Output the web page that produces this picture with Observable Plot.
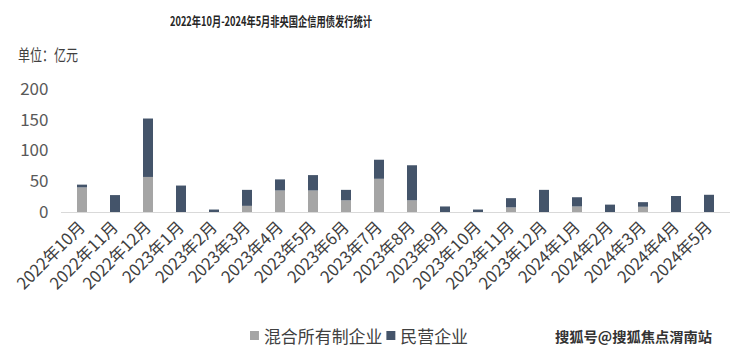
<!DOCTYPE html>
<html>
<head>
<meta charset="utf-8">
<script src="https://cdn.jsdelivr.net/npm/d3@7"></script>
<script src="https://cdn.jsdelivr.net/npm/@observablehq/plot@0.6"></script>
<style>
  html, body { margin: 0; padding: 0; background: #fff; }
  #wrap { position: relative; width: 740px; height: 357px; overflow: hidden; font-family: "Noto Sans CJK SC", "Noto Sans", sans-serif; }
  #chart { position: absolute; left: 0; top: 0; }
  .txt { position: absolute; white-space: nowrap; transform-origin: 0 0; }
  #title { left: 170px; top: 11px; font-size: 13px; font-weight: bold; color: #262626; }
  #unit { left: 18px; top: 42px; font-size: 16px; color: #404040; }
  #legend { left: 250px; top: 323px; font-size: 17px; color: #404040; display: flex; align-items: center; }
  #legend .sw { display: inline-block; width: 9px; height: 9px; margin-right: 5px; }
  #legend .item { display: flex; align-items: center; margin-right: 4px; }
  #sohu { left: 555px; top: 326px; font-size: 14px; font-weight: bold; color: #333; }
</style>
</head>
<body>
<div id="wrap">
  <div id="chart"></div>
  <div id="title" class="txt">2022年10月-2024年5月非央国企信用债发行统计</div>
  <div id="unit" class="txt">单位：亿元</div>
  <div id="legend" class="txt"></div>
  <div id="sohu" class="txt">搜狐号@搜狐焦点渭南站</div>
</div>
<script>
const months = ["2022年10月","2022年11月","2022年12月","2023年1月","2023年2月","2023年3月","2023年4月","2023年5月","2023年6月","2023年7月","2023年8月","2023年9月","2023年10月","2023年11月","2023年12月","2024年1月","2024年2月","2024年3月","2024年4月","2024年5月"];
const seriesNames = ["混合所有制企业", "民营企业"];
const mixedValues = [40, 0, 57, 0, 0, 10, 35, 35, 19, 54, 19, 0, 0, 7.5, 0, 9, 0, 8.5, 0, 0];
const privateValues = [4.5, 27.5, 95, 43, 4, 26, 18, 25, 17, 31, 57, 9, 4, 15, 36, 15, 12, 7.5, 26, 28];
const yTicks = [0, 50, 100, 150, 200];
const colors = ["#a5a5a5", "#44546a"];

const data = [];
months.forEach((m, i) => {
  data.push({month: m, type: seriesNames[0], value: mixedValues[i]});
  data.push({month: m, type: seriesNames[1], value: privateValues[i]});
});

const chart = Plot.plot({
  width: 740,
  height: 357,
  marginTop: 89,
  marginBottom: 145,
  marginLeft: 61,
  marginRight: 10,
  style: { fontFamily: '"Noto Sans CJK SC", "Noto Sans", sans-serif', background: "transparent" },
  x: { domain: months, paddingInner: 0.7, paddingOuter: 0.35, label: null },
  y: { domain: [0, 200], label: null },
  color: { domain: seriesNames, range: colors },
  marks: [
    Plot.barY(data, { x: "month", y: "value", fill: "type" }),
    Plot.ruleY([0], { stroke: "#d9d9d9", strokeWidth: 1 }),
    Plot.axisY({ ticks: yTicks, tickSize: 0, tickPadding: 13, fontSize: 17, fill: "#595959", label: null }),
    Plot.axisX({ tickSize: 0, tickRotate: -45, tickPadding: 6, dy: 6, fontSize: 16.5, fill: "#404040", label: null })
  ]
});
document.getElementById("chart").appendChild(chart);

// legend
const legend = document.getElementById("legend");
seriesNames.forEach((name, i) => {
  const item = document.createElement("span");
  item.className = "item";
  const sw = document.createElement("span");
  sw.className = "sw";
  sw.style.background = colors[i];
  item.appendChild(sw);
  item.appendChild(document.createTextNode(name));
  legend.appendChild(item);
});

// horizontally fit text boxes to target widths
function fitWidth(id, target) {
  const el = document.getElementById(id);
  const w = el.getBoundingClientRect().width;
  if (w > 0) el.style.transform = `scaleX(${target / w})`;
}
fitWidth("title", 202);
fitWidth("unit", 60);
fitWidth("legend", 222);
fitWidth("sohu", 157);
</script>
</body>
</html>
